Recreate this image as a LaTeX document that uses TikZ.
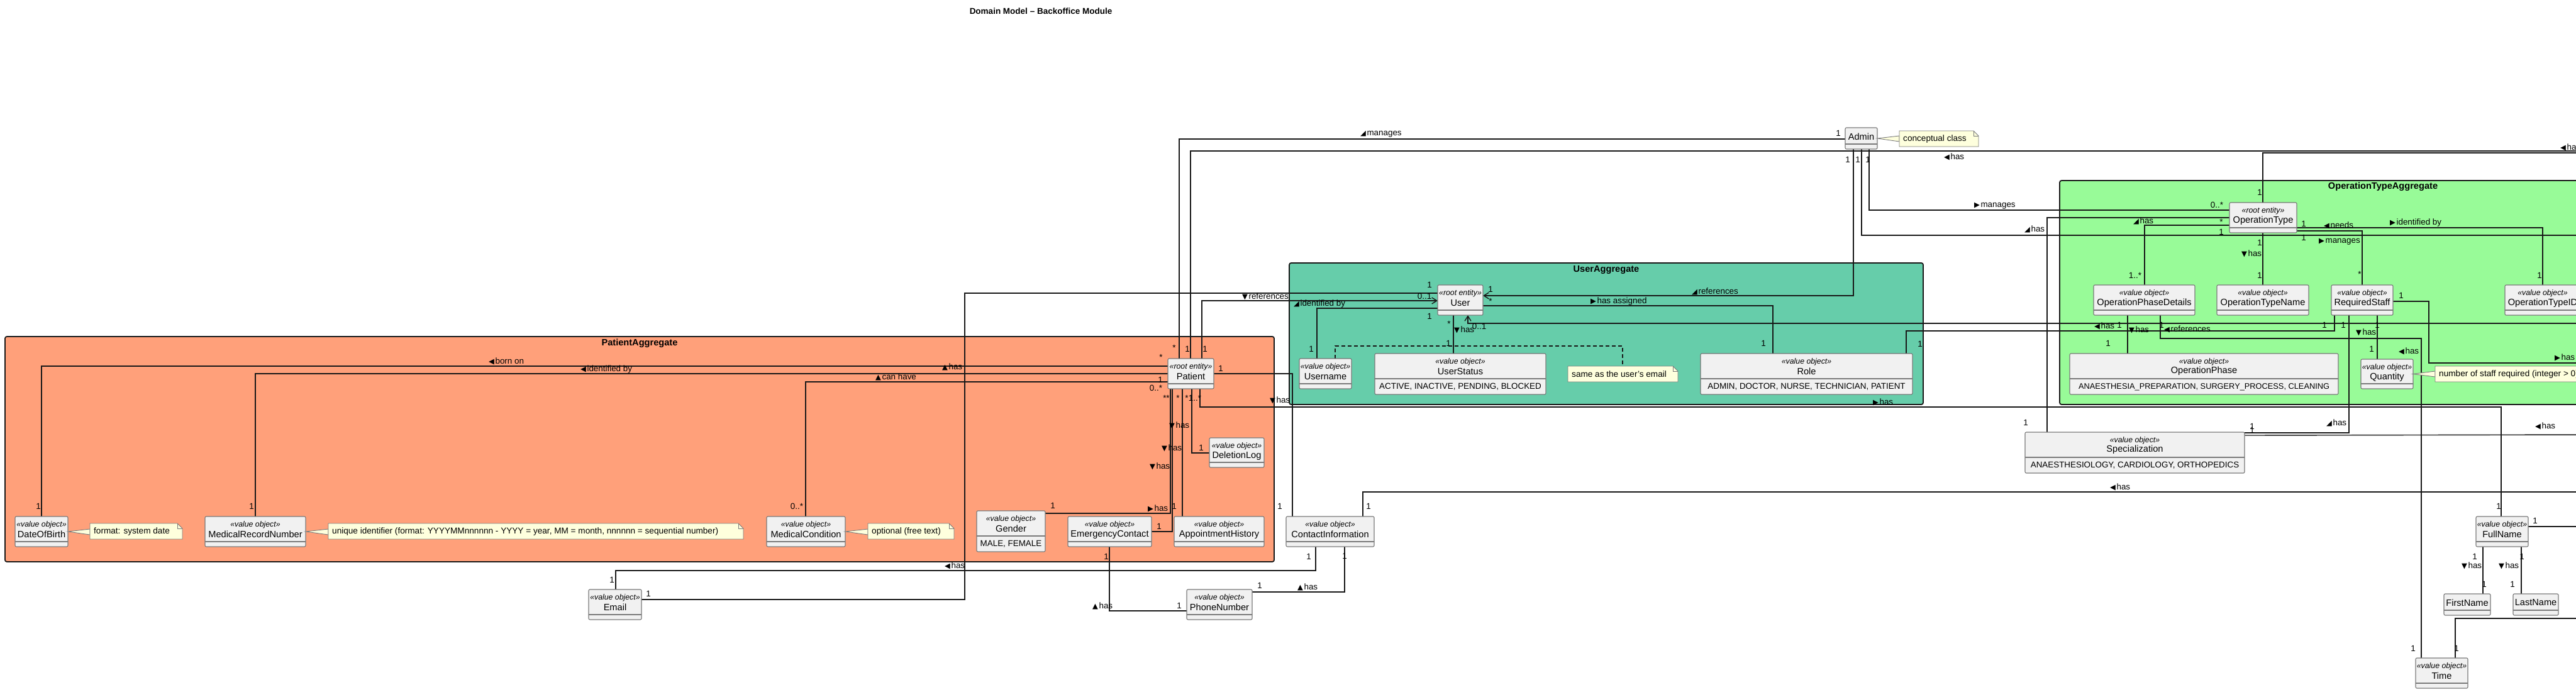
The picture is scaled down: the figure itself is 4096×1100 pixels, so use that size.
\documentclass[tikz,border=0pt]{standalone}
\usepackage{fontspec}
\setmainfont{Liberation Sans}
\newfontfamily\trifont{DejaVu Sans}
\usetikzlibrary{arrows.meta,calc}
\definecolor{psalmon}{HTML}{FFA07A}
\definecolor{paqua}{HTML}{66CDAA}
\definecolor{pgreen}{HTML}{98FB98}
\definecolor{clsfill}{HTML}{F1F1F1}
\definecolor{clsdraw}{HTML}{7A7A7A}
\definecolor{notefillc}{HTML}{FEFFDD}
\definecolor{linec}{HTML}{181818}
\pgfdeclarelayer{bg}\pgfdeclarelayer{mid}\pgfsetlayers{bg,mid,main}
\tikzset{
  clsbox/.style={draw=clsdraw, fill=clsfill, line width=1.1pt, rounded corners=2pt, inner sep=0pt, outer sep=0pt},
  stereo/.style={inner sep=0pt, font=\itshape\fontsize{12.3}{14}\selectfont},
  cname/.style={inner sep=0pt, font=\fontsize{14.6}{16}\selectfont},
  enumv/.style={inner sep=0pt, font=\fontsize{13.4}{15}\selectfont},
  sepline/.style={draw=clsdraw, line width=1.1pt},
  conn/.style={draw=linec, line width=1.4pt},
  arr/.style={conn, -{Straight Barb[length=8pt,width=10pt]}},
  dashconn/.style={draw=linec, line width=1.3pt, dash pattern=on 6pt off 4pt},
  mult/.style={inner sep=0pt, font=\fontsize{13.4}{15}\selectfont},
  lab/.style={inner sep=0pt, anchor=west, font=\fontsize{13.4}{15}\selectfont},
  grp/.style={draw=linec, line width=1.8pt, rounded corners=3pt, inner sep=0pt},
  gtitle/.style={inner sep=0pt, font=\bfseries\fontsize{14.6}{16}\selectfont},
  notefill/.style={fill=notefillc, draw=clsdraw, line width=0.9pt},
  notetxt/.style={inner sep=0pt, anchor=west, font=\fontsize{13.6}{15}\selectfont},
  notearea/.style={inner sep=0pt, outer sep=0pt}
}
% value object / root entity class: id, x1, y1, x2, y2, stereotype, name
\newcommand{\umlvo}[7]{%
  \node[clsbox, minimum width={#4-#2}, minimum height={#5-#3}] (#1) at ({(#2+#4)/2},{(#3+#5)/2}) {};
  \node[stereo] (#1-s) at ({(#2+#4)/2},{#3+13}) {«#6»};
  \node[cname] (#1-n) at ({(#2+#4)/2},{#3+28.5}) {#7};
  \draw[sepline] ({#2},{#5-8}) -- ({#4},{#5-8});
}
% enum-like class with values
\newcommand{\umlenum}[8]{%
  \node[clsbox, minimum width={#4-#2}, minimum height={#5-#3}] (#1) at ({(#2+#4)/2},{(#3+#5)/2}) {};
  \node[stereo] (#1-s) at ({(#2+#4)/2},{#3+13}) {«#6»};
  \node[cname] (#1-n) at ({(#2+#4)/2},{#3+28}) {#7};
  \draw[sepline] ({#2},{#3+40}) -- ({#4},{#3+40});
  \node[enumv] (#1-v) at ({(#2+#4)/2},{#3+53}) {#8};
}
% plain class
\newcommand{\umlplain}[6]{%
  \node[clsbox, minimum width={#4-#2}, minimum height={#5-#3}] (#1) at ({(#2+#4)/2},{(#3+#5)/2}) {};
  \node[cname] (#1-n) at ({(#2+#4)/2},{#3+14}) {#6};
  \draw[sepline] ({#2},{#5-8}) -- ({#4},{#5-8});
}
% note: id, x1, y1, x2, y2, text
\newcommand{\umlnote}[6]{%
  \node[notearea, minimum width={#4-#2}, minimum height={#5-#3}] (#1) at ({(#2+#4)/2},{(#3+#5)/2}) {};
  \path[notefill] ({#2},{#3}) -- ({#4-8},{#3}) -- ({#4},{#3+8}) -- ({#4},{#5}) -- ({#2},{#5}) -- cycle;
  \draw[draw=clsdraw, line width=0.9pt] ({#4-8},{#3}) -- ({#4-8},{#3+8}) -- ({#4},{#3+8});
  \node[notetxt] (#1-t) at ({#2+6},{(#3+#5)/2}) {#6};
}
\newcommand{\mlt}[4]{\node[mult] (#1) at (#2,#3) {#4};}
\newcommand{\lbl}[5]{\node[lab] (#1) at (#2,#3) {{\trifont\fontsize{11.5}{12}\selectfont #4}\hspace{1.5pt}#5};}
\begin{document}
\begin{tikzpicture}[x=1pt,y=-1pt]
\useasboundingbox (0,0) rectangle (4096,1100);
\clip (0,0) rectangle (4096,1100);
\begin{pgfonlayer}{bg}
  \fill[white] (0,0) rectangle (4096,1100);
  \node[grp, fill=psalmon, minimum width=2018, minimum height=358] (PA) at (1017,714) {};
  \node[gtitle] (PAt) at (1017,546) {PatientAggregate};
  \node[grp, fill=paqua, minimum width=1008, minimum height=225] (UA) at (2554,530.5) {};
  \node[gtitle] (UAt) at (2554,429) {UserAggregate};
  \node[grp, fill=pgreen, minimum width=1028, minimum height=356] (OTA) at (3789,465) {};
  \node[gtitle] (OTAt) at (3789,297) {OperationTypeAggregate};
\end{pgfonlayer}

\node[inner sep=0pt, font=\bfseries\fontsize{13.5}{15}\selectfont] (title) at (1655,18) {Domain Model – Backoffice Module};

% classes
\umlplain{Admin}{2934}{203}{2985}{237}{Admin}
\umlvo{Patient}{1857}{570}{1930}{618}{root entity}{Patient}
\umlvo{DOB}{24}{821}{108}{869}{value object}{DateOfBirth}
\umlvo{MRN}{326}{821}{486}{869}{value object}{MedicalRecordNumber}
\umlvo{MC}{1219}{821}{1344}{869}{value object}{MedicalCondition}
\umlenum{Gender}{1553}{812}{1662}{877}{value object}{Gender}{MALE, FEMALE}
\umlvo{EC}{1698}{821}{1831}{869}{value object}{EmergencyContact}
\umlvo{AH}{1867}{821}{2010}{869}{value object}{AppointmentHistory}
\umlvo{DL}{1923}{696}{2010}{743}{value object}{DeletionLog}
\umlvo{Email}{936}{937}{1020}{985}{value object}{Email}
\umlvo{PN}{1887}{937}{1991}{985}{value object}{PhoneNumber}
\umlvo{CI}{2045}{821}{2185}{869}{value object}{ContactInformation}
\umlvo{User}{2286}{453}{2358}{501}{root entity}{User}
\umlvo{UN}{2066}{570}{2149}{618}{value object}{Username}
\umlenum{US}{2186}{562}{2458}{627}{value object}{UserStatus}{ACTIVE, INACTIVE, PENDING, BLOCKED}
\umlenum{Role}{2704}{562}{3041}{627}{value object}{Role}{ADMIN, DOCTOR, NURSE, TECHNICIAN, PATIENT}
\umlvo{OT}{3545}{322}{3652}{370}{root entity}{OperationType}
\umlvo{OPD}{3329}{453}{3490}{501}{value object}{OperationPhaseDetails}
\umlvo{OTN}{3525}{453}{3671}{501}{value object}{OperationTypeName}
\umlvo{RS}{3707}{453}{3805}{501}{value object}{RequiredStaff}
\umlvo{OTID}{3983}{453}{4103}{501}{value object}{OperationTypeID}
\umlenum{OP}{3291}{562}{3718}{627}{value object}{OperationPhase}{\fontsize{12.8}{14}\selectfont ANAESTHESIA\_PREPARATION, SURGERY\_PROCESS, CLEANING}
\umlvo{Qty}{3754}{571}{3837}{618}{value object}{Quantity}
\umlenum{Spec}{3220}{687}{3569}{752}{value object}{Specialization}{ANAESTHESIOLOGY, CARDIOLOGY, ORTHOPEDICS}
\umlvo{FN}{3937}{821}{4020}{869}{value object}{FullName}
\umlplain{FirstN}{3886}{944}{3960}{978}{FirstName}
\umlplain{LastN}{3996}{944}{4068}{978}{LastName}
\umlvo{Time}{3841}{1046}{3924}{1094}{value object}{Time}

% note wedges
\coordinate (W1a) at (143,841); \coordinate (W1b) at (143,850);
\filldraw[notefill] (DOB.east) -- (W1a) -- (W1b) -- cycle;
\coordinate (W2a) at (522,841); \coordinate (W2b) at (522,850);
\filldraw[notefill] (MRN.east) -- (W2a) -- (W2b) -- cycle;
\coordinate (W3a) at (1380,841); \coordinate (W3b) at (1380,850);
\filldraw[notefill] (MC.east) -- (W3a) -- (W3b) -- cycle;
\coordinate (W5a) at (3020,216); \coordinate (W5b) at (3020,225);
\filldraw[notefill] (Admin.east) -- (W5a) -- (W5b) -- cycle;
\coordinate (W6a) at (3872,590); \coordinate (W6b) at (3872,599);
\filldraw[notefill] (Qty.east) -- (W6a) -- (W6b) -- cycle;

% notes
\umlnote{N1}{143}{832}{290}{857}{format: system date}
\umlnote{N2}{522}{832}{1182}{857}{unique identifier (format: YYYYMMnnnnnn - YYYY = year, MM = month, nnnnnn = sequential number)}
\umlnote{N3}{1380}{832}{1517}{857}{optional (free text)}
\umlnote{N4}{2493}{582}{2668}{607}{same as the user's email}
\umlnote{N5}{3020}{208}{3146}{233}{conceptual class}
\umlnote{N6}{3872}{582}{4140}{607}{number of staff required (integer > 0)}

% free ends (beyond right edge)
\coordinate (E2) at (4120,240);
\coordinate (E9) at (4120,514);
\coordinate (E24) at (4120,782);
\coordinate (E26) at (4120,374);
\coordinate (E29) at (4120,243);
\coordinate (E35) at (4120,577);
\coordinate (E38) at (4120,691);
\coordinate (E39) at (4120,837);
\coordinate (E42) at (4120,983);

\begin{pgfonlayer}{mid}
\draw[conn] (1875,0 |- Patient.north) -- (1875,221) -- (Admin.west |- 0,221);
\draw[conn] (1893,0 |- Patient.north) -- (1893,240) -- (E2);
\draw[arr] (1911,0 |- Patient.north) -- (1911,478) -- (User.west |- 0,478);
\draw[conn] (Email.east |- 0,953) -- (1534,953) -- (1534,466) -- (User.west |- 0,466);
\draw[conn] (User.west |- 0,490) -- (2094,490) -- (2094,0 |- UN.north);
\draw[conn] (2311,0 |- User.south) -- (2311,0 |- US.north);
\draw[conn] (User.east |- 0,486) -- (2819,486) -- (2819,0 |- Role.north);
\draw[arr] (2947,0 |- Admin.south) -- (2947,470) -- (User.east |- 0,470);
\draw[arr] (E9) -- (2334,514) -- (2334,0 |- User.south);
\draw[conn] (3031,0 |- Role.north) -- (3031,526) -- (3712,526) -- (3712,0 |- RS.south);
\draw[dashconn] (2123,0 |- UN.north) -- (2123,550) -- (2580,550) -- (2580,0 |- N4.north);
\draw[conn] (Patient.east |- 0,594) -- (2055,594) -- (2055,0 |- CI.north);
\draw[conn] (1908,0 |- Patient.south) -- (1908,647) -- (3977,647) -- (3977,0 |- FN.north);
\draw[conn] (1895,0 |- Patient.south) -- (1895,720) -- (DL.west |- 0,720);
\draw[conn] (1880,0 |- Patient.south) -- (1880,0 |- AH.north);
\draw[conn] (1864,0 |- Patient.south) -- (1864,845) -- (EC.east |- 0,845);
\draw[conn] (1861,0 |- Patient.south) -- (1861,816) -- (Gender.east |- 0,816);
\draw[conn] (Patient.west |- 0,582) -- (66,582) -- (66,0 |- DOB.north);
\draw[conn] (Patient.west |- 0,594) -- (406,594) -- (406,0 |- MRN.north);
\draw[conn] (Patient.west |- 0,607) -- (1281,607) -- (1281,0 |- MC.north);
\draw[conn] (2092,0 |- CI.south) -- (2092,907) -- (979,907) -- (979,0 |- Email.north);
\draw[conn] (2138,0 |- CI.south) -- (2138,941) -- (PN.east |- 0,941);
\draw[conn] (1764,0 |- EC.south) -- (1764,971) -- (PN.west |- 0,971);
\draw[conn] (2167,0 |- CI.north) -- (2167,782) -- (E24);
\draw[conn] (2972,0 |- Admin.south) -- (2972,334) -- (OT.west |- 0,334);
\draw[conn] (2960,0 |- Admin.south) -- (2960,374) -- (E26);
\draw[conn] (OT.west |- 0,346) -- (3255,346) -- (3255,0 |- Spec.north);
\draw[conn] (OT.west |- 0,358) -- (3410,358) -- (3410,0 |- OPD.north);
\draw[conn] (3598,0 |- OT.north) -- (3598,243) -- (E29);
\draw[conn] (3598,0 |- OT.south) -- (3598,0 |- OTN.north);
\draw[conn] (OT.east |- 0,367) -- (3756,367) -- (3756,0 |- RS.north);
\draw[conn] (OT.east |- 0,362) -- (4043,362) -- (4043,0 |- OTID.north);
\draw[conn] (3383,0 |- OPD.south) -- (3383,0 |- OP.north);
\draw[conn] (3435,0 |- OPD.south) -- (3435,538) -- (3850,538) -- (3850,0 |- Time.north);
\draw[conn] (RS.east |- 0,479) -- (3862,479) -- (3862,577) -- (E35);
\draw[conn] (3735,0 |- RS.south) -- (3735,688) -- (Spec.east |- 0,688);
\draw[conn] (3780,0 |- RS.south) -- (3780,0 |- Qty.north);
\draw[conn] (Spec.east |- 0,692) -- (E38);
\draw[conn] (FN.east |- 0,837) -- (E39);
\draw[conn] (3948,0 |- FN.south) -- (3948,0 |- FirstN.north);
\draw[conn] (4009,0 |- FN.south) -- (4009,0 |- LastN.north);
\draw[conn] (3904,0 |- Time.north) -- (3904,983) -- (E42);
\end{pgfonlayer}

% labels
\lbl{l1}{2163}{213}{◢}{manages}
\lbl{l2}{3091}{249}{◀}{has}
\lbl{l3}{2057}{483}{◢}{identified by}
\lbl{l4}{1975}{471}{▼}{references}
\lbl{l5}{1498}{583}{▲}{has}
\lbl{l6}{2312}{524}{▼}{has}
\lbl{l7}{2529}{479}{▶}{has assigned}
\lbl{l8}{2690}{463}{◢}{references}
\lbl{l9}{3330}{518}{◀}{has}
\lbl{l10}{2019}{636}{▼}{has}
\lbl{l11}{2978}{639}{▶}{has}
\lbl{l12}{1859}{676}{▼}{has}
\lbl{l13}{1847}{712}{▼}{has}
\lbl{l14}{1828}{741}{▼}{has}
\lbl{l15}{1825}{808}{▶}{has}
\lbl{l16}{777}{574}{◀}{born on}
\lbl{l17}{923}{587}{◀}{identified by}
\lbl{l18}{1392}{599}{▲}{can have}
\lbl{l19}{1502}{899}{◀}{has}
\lbl{l20}{2063}{933}{▲}{has}
\lbl{l21}{1737}{963}{▲}{has}
\lbl{l22}{3355}{774}{◀}{has}
\lbl{l23}{3139}{327}{▶}{manages}
\lbl{l24}{3219}{364}{◢}{has}
\lbl{l25}{3392}{351}{◢}{has}
\lbl{l26}{4071}{234}{◀}{has}
\lbl{l27}{3564}{403}{▼}{has}
\lbl{l28}{3695}{358}{◀}{needs}
\lbl{l29}{3800}{354}{▶}{identified by}
\lbl{l30}{3687}{384}{▶}{manages}
\lbl{l31}{3385}{524}{▼}{has}
\lbl{l32}{3441}{523}{◀}{references}
\lbl{l33}{3746}{528}{▼}{has}
\lbl{l34}{3814}{558}{◀}{has}
\lbl{l35}{4062}{568}{▶}{has}
\lbl{l36}{3699}{672}{◢}{has}
\lbl{l37}{4031}{677}{◀}{has}
\lbl{l38}{3914}{899}{▼}{has}
\lbl{l39}{3973}{899}{▼}{has}

% multiplicities
\mlt{m1}{1867}{553}{*}
\mlt{m2}{1888}{555}{1}
\mlt{m3}{1916}{555}{1}
\mlt{m4}{2923}{212}{1}
\mlt{m5}{2938}{254}{1}
\mlt{m6}{2954}{254}{1}
\mlt{m7}{2970}{254}{1}
\mlt{m8}{2273}{453}{1}
\mlt{m9}{2265}{471}{0..1}
\mlt{m10}{2273}{503}{1}
\mlt{m11}{2085}{555}{1}
\mlt{m12}{2370}{460}{1}
\mlt{m13}{2370}{479}{*}
\mlt{m14}{2304}{515}{*}
\mlt{m15}{2352}{519}{0..1}
\mlt{m16}{2303}{546}{1}
\mlt{m17}{2804}{546}{1}
\mlt{m18}{3053}{547}{1}
\mlt{m19}{1941}{586}{1}
\mlt{m20}{1846}{568}{*}
\mlt{m21}{1845}{604}{1}
\mlt{m22}{1838}{617}{0..*}
\mlt{m23}{1852}{633}{*}
\mlt{m24}{1857}{633}{*}
\mlt{m25}{1873}{633}{*}
\mlt{m26}{1887}{633}{*}
\mlt{m27}{1900}{633}{1..*}
\mlt{m28}{1910}{712}{1}
\mlt{m29}{1674}{804}{1}
\mlt{m30}{1867}{805}{1}
\mlt{m31}{1843}{837}{1}
\mlt{m32}{1759}{885}{1}
\mlt{m33}{1875}{963}{1}
\mlt{m34}{2003}{931}{1}
\mlt{m35}{61}{805}{1}
\mlt{m36}{400}{805}{1}
\mlt{m37}{1267}{805}{0..*}
\mlt{m38}{973}{922}{1}
\mlt{m39}{1031}{944}{1}
\mlt{m40}{2035}{805}{1}
\mlt{m41}{2081}{885}{1}
\mlt{m42}{2138}{884}{1}
\mlt{m43}{2176}{805}{1}
\mlt{m44}{3525}{326}{0..*}
\mlt{m45}{3532}{353}{*}
\mlt{m46}{3532}{369}{1}
\mlt{m47}{3593}{306}{1}
\mlt{m48}{3593}{386}{1}
\mlt{m49}{3593}{438}{1}
\mlt{m50}{3663}{356}{1}
\mlt{m51}{3663}{378}{1}
\mlt{m52}{3395}{438}{1..*}
\mlt{m53}{3752}{436}{*}
\mlt{m54}{4038}{438}{1}
\mlt{m55}{3370}{517}{1}
\mlt{m56}{3437}{517}{1}
\mlt{m57}{3352}{546}{1}
\mlt{m58}{3696}{517}{1}
\mlt{m59}{3726}{517}{1}
\mlt{m60}{3780}{517}{1}
\mlt{m61}{3771}{555}{1}
\mlt{m62}{3818}{470}{1}
\mlt{m63}{3221}{672}{1}
\mlt{m64}{3581}{678}{1}
\mlt{m65}{3581}{684}{1}
\mlt{m66}{3973}{805}{1}
\mlt{m67}{4031}{828}{1}
\mlt{m68}{3935}{885}{1}
\mlt{m69}{4010}{885}{1}
\mlt{m70}{3950}{929}{1}
\mlt{m71}{3995}{929}{1}
\mlt{m72}{3837}{1031}{1}
\mlt{m73}{3906}{1031}{1}
\end{tikzpicture}
\end{document}
